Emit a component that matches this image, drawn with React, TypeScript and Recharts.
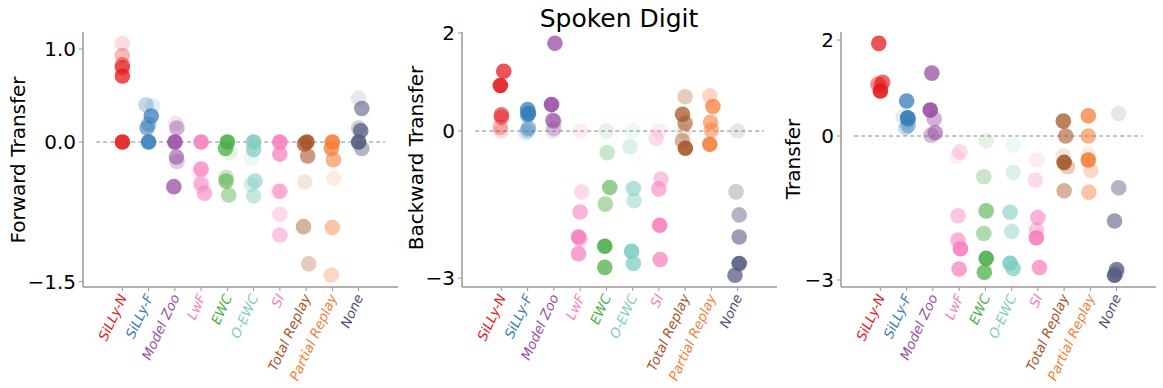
import React from 'react';
import { ScatterChart, Scatter, XAxis, YAxis, ReferenceLine } from 'recharts';

const CATEGORIES = ['SiLLy-N', 'SiLLy-F', 'Model Zoo', 'LwF', 'EWC', 'O-EWC', 'SI', 'Total Replay', 'Partial Replay', 'None'];
const COLORS = ['#e41a1c', '#377eb8', '#984ea3', '#f781bf', '#4daf4a', '#80cdc1', '#f781bf', '#a65628', '#f57f3a', '#565c80'];
const LABEL_COLORS = ['#e41a1c', '#377eb8', '#984ea3', '#f781bf', '#4daf4a', '#80cdc1', '#f781bf', '#a65628', '#f57f3a', '#4a4f70'];
// opacity per task (task 1 .. task 6)
const ALPHAS = [0.9, 0.75, 0.6, 0.45, 0.3, 0.15];

// Forward transfer, per method, per task
const FORWARD = [
  [0, 0.71, 0.80, 0.83, 0.93, 1.06],
  [0, 0.28, 0.15, 0.19, 0.40, 0.39],
  [0, -0.48, -0.16, 0.15, -0.21, 0.20],
  [0, -0.29, -0.55, -0.44, -0.47, -0.33],
  [0, -0.07, -0.42, -0.57, -0.38, -0.11],
  [0, -0.08, -0.42, -0.58, -0.46, -0.18],
  [0, -0.13, -0.53, -1.00, -0.78, -0.53],
  [0, -0.02, -0.15, -0.91, -1.31, -0.43],
  [0, -0.07, -0.19, -0.92, -1.43, -0.39],
  [0, 0.12, 0.36, -0.07, 0.15, 0.47],
];
const FORWARD_JITTER = [
  [0, 0, 0, 0, 0, 0],
  [0, 0.1, -0.06, 0, -0.1, 0.15],
  [0, -0.04, 0.06, 0.08, 0.08, 0.03],
  [0, 0, 0.13, 0, 0, -0.08],
  [0, -0.07, -0.05, 0.05, -0.05, 0.1],
  [0, 0, 0.05, 0, -0.1, -0.1],
  [0, 0, 0, 0, 0, -0.1],
  [0.03, -0.06, 0.06, -0.1, 0.1, -0.05],
  [0, -0.04, 0.04, 0, -0.04, 0.05],
  [0, 0.08, 0.12, 0.12, 0, 0],
];

// Backward transfer
const BACKWARD = [
  [0.93, 1.22, 0.33, 0.28, 0.08, 0.0],
  [0.36, 0.44, 0.33, 0.06, 0.01, -0.04],
  [0.54, 1.79, 0.22, 0.20, 0.05, 0.0],
  [-2.16, -2.50, -1.65, -2.20, -1.24, 0.0],
  [-2.35, -2.78, -1.15, -1.49, -0.44, 0.0],
  [-2.45, -2.70, -1.17, -1.42, -0.32, 0.0],
  [-1.92, -2.62, -1.18, -0.98, -0.15, 0.0],
  [-0.35, 0.34, 0.16, -0.20, 0.70, 0.0],
  [-0.27, 0.50, 0.18, 0.02, 0.72, 0.0],
  [-2.70, -2.94, -2.16, -1.71, -1.24, 0.0],
];
const BACKWARD_JITTER = [
  [-0.04, 0.09, 0, 0, -0.05, 0],
  [0.03, 0, 0, 0.03, 0, -0.08],
  [-0.09, 0.04, -0.04, 0, 0, -0.04],
  [-0.06, -0.06, 0, 0, 0.06, 0],
  [-0.06, -0.06, 0.13, -0.04, 0.03, 0],
  [-0.04, 0.03, 0.03, 0.06, -0.1, 0],
  [0.03, 0.05, 0, 0.08, -0.1, 0],
  [0.01, -0.1, 0, -0.1, 0, -0.05],
  [-0.06, 0.06, -0.03, 0, -0.06, 0],
  [0.06, -0.1, 0.06, 0.06, -0.06, 0],
];

// Transfer
const TRANSFER = [
  [0.94, 1.93, 1.12, 1.08, 1.05, 1.10],
  [0.38, 0.73, 0.35, 0.22, 0.17, 0.40],
  [0.54, 1.31, 0.07, 0.36, 0.02, 0.0],
  [-2.35, -2.77, -2.17, -1.66, -0.33, -0.43],
  [-2.55, -2.84, -1.56, -2.03, -0.85, -0.10],
  [-2.65, -2.76, -1.59, -1.99, -0.76, -0.19],
  [-2.12, -2.74, -1.70, -1.96, -0.92, -0.50],
  [-0.55, 0.31, 0.00, -1.14, -0.64, -0.41],
  [-0.50, 0.42, 0.00, -1.17, -0.72, -0.38],
  [-2.90, -2.78, -1.77, -1.08, -2.85, 0.47],
];
const TRANSFER_JITTER = [
  [0, -0.06, 0.09, -0.1, 0, 0.05],
  [0.04, 0, 0.06, 0.06, -0.03, -0.13],
  [-0.1, -0.04, 0.09, 0.05, -0.08, -0.05],
  [0.05, 0, -0.04, -0.04, 0.03, -0.08],
  [0.03, -0.04, 0.03, -0.06, -0.06, 0.03],
  [-0.06, 0.06, -0.06, 0, 0.06, 0.06],
  [-0.06, 0.06, 0, -0.05, -0.1, -0.03],
  [0, -0.03, 0.06, 0, 0.13, -0.03],
  [-0.08, -0.08, -0.08, -0.06, 0.02, -0.08],
  [-0.08, 0, -0.08, 0.08, 0, 0.08],
];

const FT_TICKS = [-1.5, 0, 1];
const BT_TICKS = [-3, 0, 2];
const T_TICKS = [-3, 0, 2];
const X_TICKS = CATEGORIES.map((_, i) => i);

const AXIS_GRAY = '#999999';
const FONT = '"DejaVu Sans", sans-serif';

function buildSeries(values: number[][], jitter: number[][]) {
  return values.map((row, m) =>
    row.map((v, t) => ({ x: m + jitter[m][t], y: v, color: COLORS[m], alpha: ALPHAS[t] }))
  );
}

const Dot = (props: any) => {
  const { cx, cy, payload } = props;
  if (cx == null || cy == null) return null;
  return <circle cx={cx} cy={cy} r={7.8} fill={payload.color} fillOpacity={payload.alpha} stroke="none" />;
};

const XTick = (props: any) => {
  const { x, payload } = props;
  const i = payload.value;
  const ax = x + 5;
  const ay = 297;
  return (
    <text
      x={ax}
      y={ay}
      textAnchor="end"
      fontSize={13.5}
      fontStyle="italic"
      fill={LABEL_COLORS[i]}
      fontFamily={FONT}
      transform={`rotate(-65 ${ax} ${ay})`}
    >
      {CATEGORIES[i]}
    </text>
  );
};

const fmtMinus = (s: string) => s.replace('-', '\u2212');

type PanelProps = {
  left: number;
  width: number;
  yWidth: number;
  marginLeft: number;
  marginRight: number;
  domain: [number, number];
  ticks: number[];
  decimals: number;
  series: { x: number; y: number; color: string; alpha: number }[][];
};

const Panel = ({ left, width, yWidth, marginLeft, marginRight, domain, ticks, decimals, series }: PanelProps) => (
  <div style={{ position: 'absolute', left, top: 0 }}>
    <ScatterChart width={width} height={388} margin={{ top: 32, right: marginRight, bottom: 0, left: marginLeft }}>
      <XAxis
        type="number"
        dataKey="x"
        domain={[-1.5, 10.5]}
        ticks={X_TICKS}
        interval={0}
        allowDataOverflow
        height={101}
        tickSize={4}
        axisLine={{ stroke: AXIS_GRAY, strokeWidth: 1.5 }}
        tickLine={{ stroke: AXIS_GRAY, strokeWidth: 1 }}
        tick={<XTick />}
      />
      <YAxis
        type="number"
        dataKey="y"
        domain={domain}
        ticks={ticks}
        interval={0}
        allowDataOverflow
        width={yWidth}
        tickSize={4}
        tickMargin={3}
        axisLine={{ stroke: AXIS_GRAY, strokeWidth: 1.5 }}
        tickLine={{ stroke: AXIS_GRAY, strokeWidth: 1 }}
        tick={{ fill: '#000', fontSize: 20, fontFamily: FONT }}
        tickFormatter={(v: number) => fmtMinus(v.toFixed(decimals))}
      />
      <ReferenceLine
        segment={[{ x: -1, y: 0 }, { x: 10, y: 0 }]}
        stroke="#888"
        strokeWidth={1}
        strokeDasharray="4 3"
        ifOverflow="visible"
      />
      {series.map((pts, m) => (
        <Scatter key={m} data={pts} shape={<Dot />} isAnimationActive={false} />
      ))}
    </ScatterChart>
  </div>
);

export default function App() {
  return (
    <div style={{ position: 'absolute', left: 0, top: 0, width: 1163, height: 388, background: '#fff', fontFamily: FONT }}>
      <Panel left={0} width={400} yWidth={60} marginLeft={23} marginRight={2} domain={[-1.559, 1.183]} ticks={FT_TICKS} decimals={1} series={buildSeries(FORWARD, FORWARD_JITTER)} />
      <Panel left={400} width={380} yWidth={40} marginLeft={22} marginRight={3} domain={[-3.18, 2.02]} ticks={BT_TICKS} decimals={0} series={buildSeries(BACKWARD, BACKWARD_JITTER)} />
      <Panel left={780} width={383} yWidth={40} marginLeft={21} marginRight={7} domain={[-3.146, 2.167]} ticks={T_TICKS} decimals={0} series={buildSeries(TRANSFER, TRANSFER_JITTER)} />
      <svg width={1163} height={388} style={{ position: 'absolute', left: 0, top: 0, pointerEvents: 'none' }}>
        <text x={619} y={27} textAnchor="middle" fontSize={25} fontFamily={FONT} fill="#000">Spoken Digit</text>
        <text x={25} y={160} textAnchor="middle" fontSize={20} fontFamily={FONT} fill="#000" transform="rotate(-90 25 160)">Forward Transfer</text>
        <text x={423} y={158} textAnchor="middle" fontSize={20} fontFamily={FONT} fill="#000" transform="rotate(-90 423 158)">Backward Transfer</text>
        <text x={800} y={159} textAnchor="middle" fontSize={20} fontFamily={FONT} fill="#000" transform="rotate(-90 800 159)">Transfer</text>
      </svg>
    </div>
  );
}
